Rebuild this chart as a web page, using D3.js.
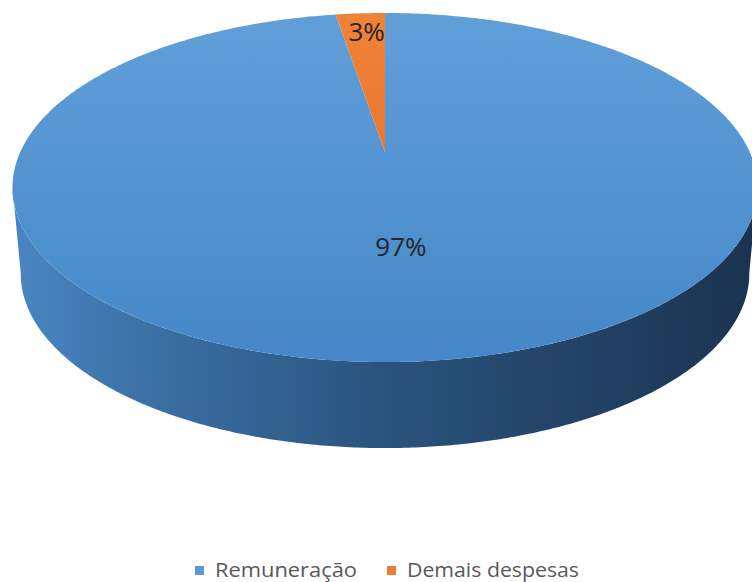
<!DOCTYPE html>
<html>
<head>
<meta charset="utf-8">
<script src="https://cdn.jsdelivr.net/npm/d3@7"></script>
<style>
  body { margin: 0; background: #fff; }
  svg { display: block; font-family: "Open Sans", sans-serif; }
</style>
</head>
<body>
<div id="chart"></div>
<script>
const categories = ["Remuneração", "Demais despesas"];
const values = [97.4, 2.6];
const colors = ["#5b9bd5", "#ed7d31"];

let width = 752, height = 582;

// perspective of the pie top (centre of the disc, radii, tilt strength)
const cx = 385, cy = 152, A = 364.7, B = 167.3, k = 0.2035, depth = 86;
const bottomShrink = 0.978;

function proj(a, f) {
    const u = f * Math.sin(a), v = -f * Math.cos(a);
    const w = 1 - k * v;
    return [cx + A * u / w, cy + B * v / w];
}

let svg = d3.select("#chart")
    .append("svg")
    .attr("width", width)
    .attr("height", height);

const defs = svg.append("defs");

//START gradients
const gTop = defs.append("linearGradient").attr("id", "gTop")
    .attr("gradientUnits", "userSpaceOnUse")
    .attr("x1", 0).attr("y1", 13).attr("x2", 0).attr("y2", 362);
gTop.append("stop").attr("offset", 0).attr("stop-color", "#619fd9");
gTop.append("stop").attr("offset", 1).attr("stop-color", "#4587c8");

const gOr = defs.append("linearGradient").attr("id", "gOr")
    .attr("gradientUnits", "userSpaceOnUse")
    .attr("x1", 0).attr("y1", 13).attr("x2", 0).attr("y2", 152);
gOr.append("stop").attr("offset", 0).attr("stop-color", "#f0833a");
gOr.append("stop").attr("offset", 1).attr("stop-color", "#e9782c");

const gSide = defs.append("linearGradient").attr("id", "gSide")
    .attr("gradientUnits", "userSpaceOnUse")
    .attr("x1", 10).attr("y1", 0).attr("x2", 757).attr("y2", 0);
gSide.append("stop").attr("offset", 0).attr("stop-color", "#4a86c3");
gSide.append("stop").attr("offset", 0.2).attr("stop-color", "#3a6fa3");
gSide.append("stop").attr("offset", 0.5).attr("stop-color", "#2a537d");
gSide.append("stop").attr("offset", 1).attr("stop-color", "#1b3350");
//END gradients

const pie = d3.pie().sort(null).value(d => d);
const arcs = pie(values);
const line = d3.line();

//START side wall
const N = 720;
let rim = d3.range(N + 1).map(i => proj(i / N * 2 * Math.PI, 1));
let iMin = d3.minIndex(rim, p => p[0]), iMax = d3.maxIndex(rim, p => p[0]);
// front goes from right extreme (clockwise) through the bottom to the left extreme
let front = rim.slice(iMax, iMin + 1);
let base = front.slice().reverse().map(p => [cx + (p[0] - cx) * bottomShrink, p[1] + depth]);
svg.append("path")
    .attr("d", line(front.concat(base)) + "Z")
    .attr("fill", "url(#gSide)");
//END side wall

//START top slices
arcs.forEach((d, i) => {
    const n = Math.max(4, Math.ceil((d.endAngle - d.startAngle) / (2 * Math.PI) * N));
    let pts = [proj(0, 0)];
    for (let j = 0; j <= n; j++) {
        pts.push(proj(d.startAngle + (d.endAngle - d.startAngle) * j / n, 1));
    }
    svg.append("path")
        .attr("d", line(pts) + "Z")
        .attr("fill", i === 0 ? "url(#gTop)" : "url(#gOr)");
});
//END top slices

//START labels
const total = d3.sum(values);
const fmt = d3.format(".0%");
arcs.forEach((d, i) => {
    const mid = (d.startAngle + d.endAngle) / 2;
    const f = (d.endAngle - d.startAngle) > Math.PI ? 0.51 : 0.84;
    const p = proj(mid, f);
    svg.append("text")
        .attr("x", p[0] + (i === 0 ? -1 : 3))
        .attr("y", p[1] + 9)
        .attr("text-anchor", "middle")
        .style("font-size", "26px")
        .style("fill", "#262626")
        .text(fmt(d.data / total));
});
//END labels

//START legend
const legX = [195, 387];
const legW = [142, 172];
categories.forEach((c, i) => {
    svg.append("rect")
        .attr("x", legX[i]).attr("y", 566)
        .attr("width", 9).attr("height", 9)
        .attr("fill", colors[i]);
    svg.append("text")
        .attr("x", legX[i] + 20).attr("y", 577)
        .attr("textLength", legW[i])
        .attr("lengthAdjust", "spacingAndGlyphs")
        .style("font-size", "20px")
        .style("fill", "#595959")
        .text(c);
});
//END legend
</script>
</body>
</html>
